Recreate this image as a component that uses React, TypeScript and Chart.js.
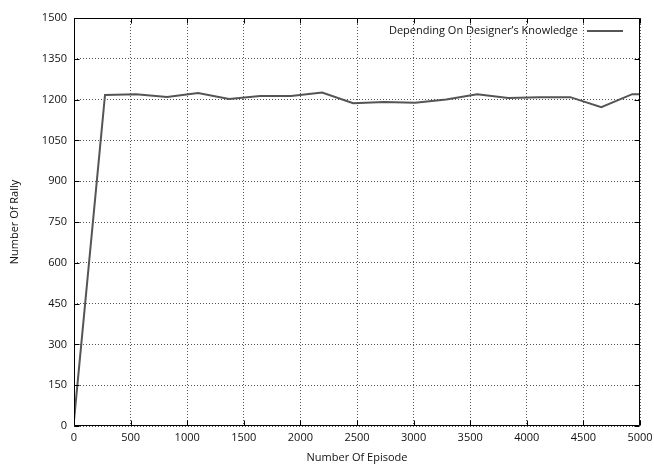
import React, { useEffect, useRef } from "react";
import { Chart, registerables } from "chart.js";

Chart.register(...registerables);

const episodes = [0, 274, 548, 822, 1096, 1370, 1644, 1918, 2192, 2466, 2740, 3014, 3288, 3562, 3836, 4110, 4384, 4658, 4932, 5000];
const rallies = [20, 1217, 1220, 1210, 1224, 1202, 1213, 1213, 1226, 1187, 1191, 1188, 1200, 1220, 1206, 1209, 1209, 1172, 1220, 1220];
const seriesLabel = "Depending On Designer\u2019s Knowledge";
const xTitle = "Number Of Episode";
const yTitle = "Number Of Rally";
const FONT = "'Open Sans', 'DejaVu Sans', sans-serif";

const framePlugin = {
  id: "frame",
  afterDraw(chart: any) {
    const { ctx, chartArea: a, scales } = chart;
    ctx.save();
    ctx.strokeStyle = "#000";
    ctx.lineWidth = 1;
    ctx.beginPath();
    const L = Math.round(a.left) + 0.5, R = Math.round(a.right) - 0.5;
    const T = Math.round(a.top) + 0.5, B = Math.round(a.bottom) - 0.5;
    ctx.rect(L, T, R - L, B - T);
    const tl = 5;
    scales.x.ticks.forEach((t: any) => {
      const px = Math.round(scales.x.getPixelForValue(t.value)) + 0.5;
      ctx.moveTo(px, B); ctx.lineTo(px, B - tl);
      ctx.moveTo(px, T); ctx.lineTo(px, T + tl);
    });
    scales.y.ticks.forEach((t: any) => {
      const py = Math.round(scales.y.getPixelForValue(t.value)) + 0.5;
      ctx.moveTo(L, py); ctx.lineTo(L + tl, py);
      ctx.moveTo(R, py); ctx.lineTo(R - tl, py);
    });
    ctx.stroke();
    // legend
    const ly = a.top + 13;
    ctx.font = `11px ${FONT}`;
    ctx.fillStyle = "#111";
    ctx.textAlign = "right";
    ctx.textBaseline = "middle";
    ctx.fillText(seriesLabel, a.right - 62, ly);
    ctx.strokeStyle = "#555";
    ctx.lineWidth = 2;
    ctx.beginPath();
    ctx.moveTo(a.right - 53, ly);
    ctx.lineTo(a.right - 17, ly);
    ctx.stroke();
    ctx.restore();
  },
};

export default function App() {
  const ref = useRef<HTMLCanvasElement>(null);
  useEffect(() => {
    const chart = new Chart(ref.current!, {
      type: "line",
      data: {
        datasets: [
          {
            label: seriesLabel,
            data: episodes.map((x, i) => ({ x, y: rallies[i] })),
            borderColor: "#555",
            borderWidth: 2,
            pointRadius: 0,
            tension: 0,
            fill: false,
          },
        ],
      },
      options: {
        responsive: false,
        animation: false,
        layout: { padding: { top: 18, right: 0, left: 0, bottom: 0 } },
        plugins: { legend: { display: false }, tooltip: { enabled: false } },
        scales: {
          x: {
            type: "linear",
            min: 0,
            max: 5000,
            afterFit: (s: any) => { s.height = 38; s.paddingRight = 14; s.paddingLeft = 0; },
            border: { display: false, dash: [1, 2] },
            grid: { color: "#555", drawTicks: false, lineWidth: 1 },
            ticks: { stepSize: 500, padding: 5, color: "#111", font: { family: FONT, size: 11 }, maxRotation: 0, callback: (v: any) => String(v) },
            title: { display: true, text: xTitle, color: "#111", font: { family: FONT, size: 11 }, padding: { top: 2, bottom: 0 } },
          },
          y: {
            min: 0,
            max: 1500,
            afterFit: (s: any) => { s.width = 74; },
            border: { display: false, dash: [1, 2] },
            grid: { color: "#555", drawTicks: false, lineWidth: 1 },
            ticks: { stepSize: 150, padding: 7, color: "#111", font: { family: FONT, size: 11 }, callback: (v: any) => String(v) },
            title: { display: true, text: yTitle, color: "#111", font: { family: FONT, size: 11 }, padding: { top: 8, bottom: 0 } },
          },
        },
      },
      plugins: [framePlugin],
    });
    return () => chart.destroy();
  }, []);
  return (
    <div style={{ position: "fixed", left: 0, top: 0, width: 654, height: 464, background: "#fff" }}>
      <canvas ref={ref} width={654} height={464} />
    </div>
  );
}
